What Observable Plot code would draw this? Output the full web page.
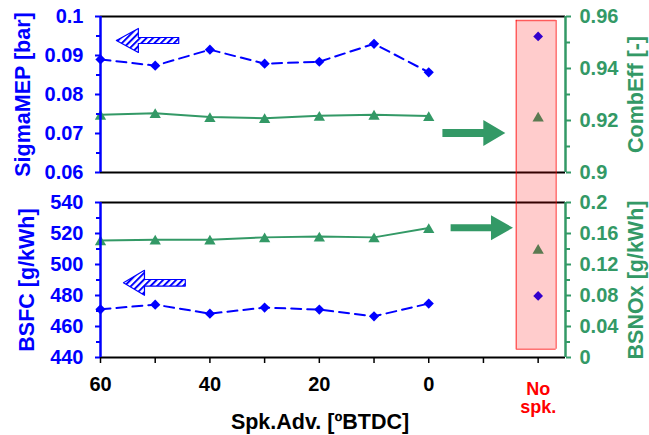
<!DOCTYPE html>
<html><head><meta charset="utf-8">
<script src="https://cdn.jsdelivr.net/npm/d3@7"></script>
<script src="https://cdn.jsdelivr.net/npm/@observablehq/plot@0.6"></script>
<style>
body{margin:0;background:#fff;}
#chart{width:649px;height:435px;position:relative;}
#chart svg{display:block;}
</style></head><body><div id="chart"></div>
<script>
// ---------- data ----------
const spkAdv = [60, 50, 40, 30, 20, 10, 0];
const noSpkX = -20;
const sigmaMEP = [0.0890, 0.0874, 0.0915, 0.0879, 0.0884, 0.0930, 0.0857];
const combEff  = [0.9222, 0.9228, 0.9213, 0.9209, 0.9218, 0.9222, 0.9217];
const bsfc     = [471.1, 474.1, 468.3, 472.2, 470.9, 466.6, 474.8];
const bsnox    = [0.151, 0.152, 0.152, 0.155, 0.156, 0.155, 0.167];
const noSpkSigmaMEP = [0.0949];
const noSpkCombEff  = [0.9215];
const noSpkBSFC     = [479.7];
const noSpkBSNOx    = [0.140];

const xTicks = [60, 50, 40, 30, 20, 10, 0, -10, -20];
const xTickLabels = ["60", "", "40", "", "20", "", "0", "", ""];
const noSpkLabel = "No\nspk.";
const xTitle = "Spk.Adv. [ºBTDC]";

const sigTicks = [0.1, 0.09, 0.08, 0.07, 0.06];
const sigLabels = ["0.1", "0.09", "0.08", "0.07", "0.06"];
const sigMinor = [0.095, 0.085, 0.075, 0.065];
const combTicks = [0.96, 0.94, 0.92, 0.9];
const combLabels = ["0.96", "0.94", "0.92", "0.9"];
const combMinor = [0.95, 0.93, 0.91];
const bsfcTicks = [540, 520, 500, 480, 460, 440];
const bsfcLabels = ["540", "520", "500", "480", "460", "440"];
const bsfcMinor = [530, 510, 490, 470, 450];
const noxTicks = [0.2, 0.16, 0.12, 0.08, 0.04, 0];
const noxLabels = ["0.2", "0.16", "0.12", "0.08", "0.04", "0"];
const noxMinor = [0.18, 0.14, 0.10, 0.06, 0.02];

// ---------- layout / style ----------
const blue = "#0000ff", green = "#339966";
const font = "'Liberation Sans', Arial, Helvetica, sans-serif";
const W = 649, ML = 100, MR = 84;
const xDomain = [60, -25];
const sigDom = [0.06, 0.1], combDom = [0.9, 0.96];
const bsfcDom = [440, 540], noxDom = [0, 0.2];
const topH = 187, topMT = 16, topMB = 15;
const botH = 248, botMT = 15, botMB = 78;
const combToSig = v => sigDom[0] + (v - combDom[0]) * (sigDom[1] - sigDom[0]) / (combDom[1] - combDom[0]);
const noxToBsfc = v => bsfcDom[0] + (v - noxDom[0]) * (bsfcDom[1] - bsfcDom[0]) / (noxDom[1] - noxDom[0]);
const lookup = (ticks, labels) => d => { const i = ticks.indexOf(d); return i < 0 ? "" : labels[i]; };

// annotation box around "No spk." (data units)
const boxX1 = -16, boxX2 = -23.3, boxTopSig = 0.099, boxBottomBsfc = 445.3;

// arrows: tip/tail x in data units, y in left-axis units; sizes in px
const topArrows = [
  {xTip: 57.1, xTail: 45.7, y: 0.09385, S: 3, H: 12, L: 22, kind: "hatch"},
  {xTip: -14.0, xTail: -2.5, y: 0.07013, S: 4, H: 13, L: 22, kind: "solid"}
];
const botArrows = [
  {xTip: -15.4, xTail: -4.0, y: 523.7, S: 3.5, H: 12.5, L: 22, kind: "solid"},
  {xTip: 55.8, xTail: 44.5, y: 488.2, S: 3.3, H: 12.5, L: 21, kind: "hatch"}
];

function arrowPolys(arrows, yDom, h, mt, mb) {
  const kx = (xDomain[1] - xDomain[0]) / (W - ML - MR);
  const ky = (yDom[1] - yDom[0]) / (h - mt - mb);
  const out = [];
  arrows.forEach((a, id) => {
    const dir = Math.sign(a.xTail - a.xTip);
    const baseX = a.xTip + dir * Math.abs(a.L * kx);
    const pts = [
      [a.xTip, a.y], [baseX, a.y + a.H * ky], [baseX, a.y + a.S * ky],
      [a.xTail, a.y + a.S * ky], [a.xTail, a.y - a.S * ky],
      [baseX, a.y - a.S * ky], [baseX, a.y - a.H * ky], [a.xTip, a.y]
    ];
    pts.forEach(p => out.push({id, kind: a.kind, x: p[0], y: p[1]}));
  });
  return out;
}

function addPattern(svg, id) {
  const ns = "http://www.w3.org/2000/svg";
  const defs = document.createElementNS(ns, "defs");
  const pat = document.createElementNS(ns, "pattern");
  pat.setAttribute("id", id);
  pat.setAttribute("patternUnits", "userSpaceOnUse");
  pat.setAttribute("width", "4.6");
  pat.setAttribute("height", "4.6");
  pat.setAttribute("patternTransform", "rotate(45)");
  const ln = document.createElementNS(ns, "line");
  ln.setAttribute("x1", "1"); ln.setAttribute("y1", "0");
  ln.setAttribute("x2", "1"); ln.setAttribute("y2", "4.6");
  ln.setAttribute("stroke", blue); ln.setAttribute("stroke-width", "2");
  pat.appendChild(ln); defs.appendChild(pat);
  svg.insertBefore(defs, svg.firstChild);
}

const style = {fontFamily: font, fontSize: "20px", fontWeight: "bold", background: "transparent", overflow: "visible"};

function arrowMarks(polys, patId) {
  return [
    Plot.line(polys.filter(d => d.kind === "solid"), {x: "x", y: "y", z: "id", fill: green, stroke: "none"}),
    Plot.line(polys.filter(d => d.kind === "hatch"), {x: "x", y: "y", z: "id", fill: `url(#${patId})`, stroke: blue, strokeWidth: 1.2})
  ];
}

// ---------- top panel ----------
const sigBelow = sigDom[0] - topMB * (sigDom[1] - sigDom[0]) / (topH - topMT - topMB);
const combTicksM = combTicks.map(combToSig);
const combMinorM = combMinor.map(combToSig);
const topPlot = Plot.plot({
  width: W, height: topH, marginTop: topMT, marginBottom: topMB, marginLeft: ML, marginRight: MR,
  style,
  x: {domain: xDomain, axis: null},
  y: {domain: sigDom},
  marks: [
    Plot.ruleY(sigDom, {stroke: "black", strokeWidth: 2}),
    Plot.line(combEff, {x: spkAdv, y: d => combToSig(d), stroke: green, strokeWidth: 2}),
    Plot.dot(combEff, {x: spkAdv, y: d => combToSig(d), symbol: "triangle", r: 4.2, fill: green, dy: 1.6}),
    Plot.dot(noSpkCombEff, {x: noSpkX, y: d => combToSig(d), symbol: "triangle", r: 4.2, fill: green, dy: 1.6}),
    Plot.line(sigmaMEP, {x: spkAdv, y: d => d, stroke: blue, strokeWidth: 2, strokeDasharray: "10,6"}),
    Plot.dot(sigmaMEP, {x: spkAdv, y: d => d, symbol: "diamond2", r: 4.6, fill: blue}),
    Plot.dot(noSpkSigmaMEP, {x: noSpkX, y: d => d, symbol: "diamond2", r: 4.4, fill: blue}),
    ...arrowMarks(arrowPolys(topArrows, sigDom, topH, topMT, topMB), "hatchTop"),
    Plot.rect([0], {x1: boxX1, x2: boxX2, y1: boxTopSig, y2: sigBelow, fill: "red", fillOpacity: 0.2}),
    Plot.ruleY([boxTopSig], {x1: boxX1, x2: boxX2, stroke: "red", strokeOpacity: 0.55, strokeWidth: 1.5}),
    Plot.ruleX([boxX1, boxX2], {y1: boxTopSig, y2: sigBelow, stroke: "red", strokeOpacity: 0.55, strokeWidth: 1.5}),
    Plot.ruleX([xDomain[0]], {stroke: blue, strokeWidth: 2.5}),
    Plot.ruleX([xDomain[1]], {stroke: green, strokeWidth: 2.5}),
    Plot.axisY(sigTicks, {anchor: "left", color: blue, tickSize: 5, tickPadding: 12, strokeWidth: 2, tickFormat: lookup(sigTicks, sigLabels), label: null}),
    Plot.axisY(sigMinor, {anchor: "left", color: blue, tickSize: 4, strokeWidth: 2, tickFormat: () => "", label: null}),
    Plot.axisY(combTicksM, {anchor: "right", color: green, tickSize: 5, tickPadding: 9, strokeWidth: 2, tickFormat: lookup(combTicksM, combLabels), label: null}),
    Plot.axisY(combMinorM, {anchor: "right", color: green, tickSize: 4, strokeWidth: 2, tickFormat: () => "", label: null}),
    Plot.text(["SigmaMEP [bar]"], {frameAnchor: "left", textAnchor: "middle", rotate: -90, dx: -77, fill: blue, fontSize: 21.5}),
    Plot.text(["CombEff [-]"], {frameAnchor: "right", textAnchor: "middle", rotate: -90, dx: 71, fill: green, fontSize: 21.5})
  ]
});
addPattern(topPlot, "hatchTop");

// ---------- bottom panel ----------
const bsfcAbove = bsfcDom[1] + botMT * (bsfcDom[1] - bsfcDom[0]) / (botH - botMT - botMB);
const noxTicksM = noxTicks.map(noxToBsfc);
const noxMinorM = noxMinor.map(noxToBsfc);
const botPlot = Plot.plot({
  width: W, height: botH, marginTop: botMT, marginBottom: botMB, marginLeft: ML, marginRight: MR,
  style,
  x: {domain: xDomain},
  y: {domain: bsfcDom},
  marks: [
    Plot.ruleY(bsfcDom, {stroke: "black", strokeWidth: 2}),
    Plot.line(bsnox, {x: spkAdv, y: d => noxToBsfc(d), stroke: green, strokeWidth: 2}),
    Plot.dot(bsnox, {x: spkAdv, y: d => noxToBsfc(d), symbol: "triangle", r: 4.2, fill: green, dy: 1.6}),
    Plot.dot(noSpkBSNOx, {x: noSpkX, y: d => noxToBsfc(d), symbol: "triangle", r: 4.2, fill: green, dy: 1.6}),
    Plot.line(bsfc, {x: spkAdv, y: d => d, stroke: blue, strokeWidth: 2, strokeDasharray: "10,6"}),
    Plot.dot(bsfc, {x: spkAdv, y: d => d, symbol: "diamond2", r: 4.6, fill: blue}),
    Plot.dot(noSpkBSFC, {x: noSpkX, y: d => d, symbol: "diamond2", r: 4.4, fill: blue}),
    ...arrowMarks(arrowPolys(botArrows, bsfcDom, botH, botMT, botMB), "hatchBot"),
    Plot.rect([0], {x1: boxX1, x2: boxX2, y1: bsfcAbove, y2: boxBottomBsfc, fill: "red", fillOpacity: 0.2}),
    Plot.ruleY([boxBottomBsfc], {x1: boxX1, x2: boxX2, stroke: "red", strokeOpacity: 0.55, strokeWidth: 1.5}),
    Plot.ruleX([boxX1, boxX2], {y1: bsfcAbove, y2: boxBottomBsfc, stroke: "red", strokeOpacity: 0.55, strokeWidth: 1.5}),
    Plot.ruleX([xDomain[0]], {stroke: blue, strokeWidth: 2.5}),
    Plot.ruleX([xDomain[1]], {stroke: green, strokeWidth: 2.5}),
    Plot.axisY(bsfcTicks, {anchor: "left", color: blue, tickSize: 5, tickPadding: 12, strokeWidth: 2, tickFormat: lookup(bsfcTicks, bsfcLabels), label: null}),
    Plot.axisY(bsfcMinor, {anchor: "left", color: blue, tickSize: 4, strokeWidth: 2, tickFormat: () => "", label: null}),
    Plot.axisY(noxTicksM, {anchor: "right", color: green, tickSize: 5, tickPadding: 9, strokeWidth: 2, tickFormat: lookup(noxTicksM, noxLabels), label: null}),
    Plot.axisY(noxMinorM, {anchor: "right", color: green, tickSize: 4, strokeWidth: 2, tickFormat: () => "", label: null}),
    Plot.axisX(xTicks, {anchor: "bottom", color: "black", tickSize: 6, tickPadding: 13, strokeWidth: 1.5, tickFormat: lookup(xTicks, xTickLabels), label: null}),
    Plot.text([noSpkLabel], {x: noSpkX, frameAnchor: "bottom", lineAnchor: "top", dy: 25, fill: "red", fontSize: 18, lineHeight: 1.0}),
    Plot.text([xTitle], {frameAnchor: "bottom", lineAnchor: "top", dx: -13, dy: 56, fill: "black", fontSize: 21.5}),
    Plot.text(["BSFC [g/kWh]"], {frameAnchor: "left", textAnchor: "middle", rotate: -90, dx: -73, fill: blue, fontSize: 21.5}),
    Plot.text(["BSNOx [g/kWh]"], {frameAnchor: "right", textAnchor: "middle", rotate: -90, dx: 71, fill: green, fontSize: 21.5})
  ]
});
addPattern(botPlot, "hatchBot");

const root = document.getElementById("chart");
root.appendChild(topPlot);
root.appendChild(botPlot);
</script>
</body></html>
